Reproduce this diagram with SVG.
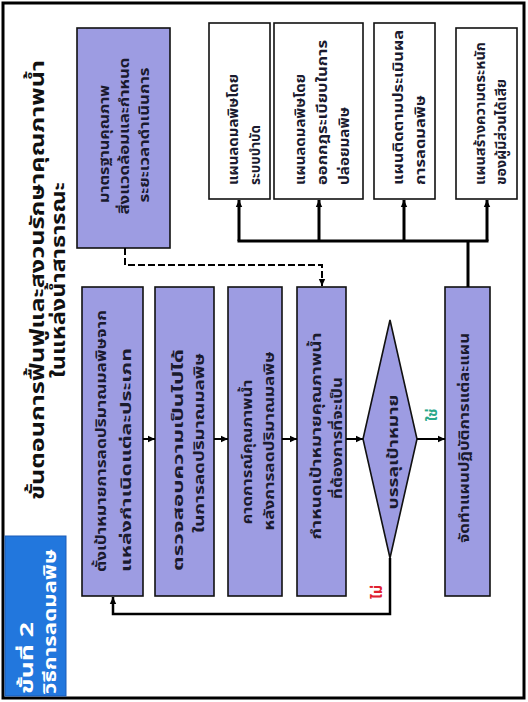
<svg xmlns="http://www.w3.org/2000/svg" width="528" height="702" viewBox="0 0 528 702">
<style>
  text { font-family: "Noto Sans Thai", "Noto Sans", "DejaVu Sans", sans-serif; font-weight: bold; fill: #1a1a2e; }
  .p { fill: #9d9ce2; stroke: #111; stroke-width: 1.6; }
  .w { fill: #ffffff; stroke: #111; stroke-width: 1.6; }
  .t { font-size: 14px; }
  .tw { font-size: 14px; }
  .ttl { font-size: 20px; fill: #111; }
  .blue { font-size: 17px; fill: #ffffff; }
  .c { fill: none; stroke: #000; }
</style>
<defs>
  <marker id="ah" markerUnits="userSpaceOnUse" markerWidth="8" markerHeight="8" refX="7" refY="4" orient="auto">
    <path d="M0,0.8 L7,4 L0,7.2 Z" fill="#000"/>
  </marker>
</defs>
<rect x="0" y="0" width="528" height="702" fill="#ffffff"/>
<rect x="3" y="3" width="521" height="695" fill="none" stroke="#000" stroke-width="3"/>

<g id="label">
  <rect x="5" y="536" width="61" height="160" fill="#2277dd" stroke="#1a5cb8" stroke-width="1"/>
  <text class="blue" transform="translate(33 694) rotate(-90)" textLength="72" lengthAdjust="spacingAndGlyphs">ขั้นที่ 2</text>
  <text class="blue" transform="translate(56 694) rotate(-90)" textLength="145" lengthAdjust="spacingAndGlyphs">วิธีการลดมลพิษ</text>
</g>

<g id="title">
  <text class="ttl" text-anchor="middle" transform="translate(44 280) rotate(-90)" textLength="440" lengthAdjust="spacingAndGlyphs">ขั้นตอนการฟื้นฟูและสงวนรักษาคุณภาพน้ำ</text>
  <text class="ttl" text-anchor="middle" transform="translate(65 280) rotate(-90)" textLength="196" lengthAdjust="spacingAndGlyphs">ในแหล่งน้ำสาธารณะ</text>
</g>

<g id="standard">
  <rect class="p" x="77" y="28" width="93" height="220"/>
  <text class="t" text-anchor="middle" transform="translate(109 144) rotate(-90)" textLength="118" lengthAdjust="spacingAndGlyphs">มาตรฐานคุณภาพ</text>
  <text class="t" text-anchor="middle" transform="translate(129 136) rotate(-90)" textLength="157" lengthAdjust="spacingAndGlyphs">สิ่งแวดล้อมและกำหนด</text>
  <text class="t" text-anchor="middle" transform="translate(149 135) rotate(-90)" textLength="135" lengthAdjust="spacingAndGlyphs">ระยะเวลาดำเนินการ</text>
</g>

<g id="step1">
  <rect class="p" x="82" y="287" width="61" height="309"/>
  <text class="t" text-anchor="middle" transform="translate(106 441) rotate(-90)" textLength="262" lengthAdjust="spacingAndGlyphs">ตั้งเป้าหมายการลดปริมาณมลพิษจาก</text>
  <text class="t" text-anchor="middle" transform="translate(131 460) rotate(-90)" textLength="224" lengthAdjust="spacingAndGlyphs">แหล่งกำเนิดแต่ละประเภท</text>
</g>

<g id="step2">
  <rect class="p" x="155" y="287" width="59" height="309"/>
  <text class="t" text-anchor="middle" transform="translate(183 460) rotate(-90)" textLength="222" lengthAdjust="spacingAndGlyphs">ตรวจสอบความเป็นไปได้</text>
  <text class="t" text-anchor="middle" transform="translate(204 443) rotate(-90)" textLength="180" lengthAdjust="spacingAndGlyphs">ในการลดปริมาณมลพิษ</text>
</g>

<g id="step3">
  <rect class="p" x="228" y="287" width="54" height="309"/>
  <text class="t" text-anchor="middle" transform="translate(252 452) rotate(-90)" textLength="145" lengthAdjust="spacingAndGlyphs">คาดการณ์คุณภาพน้ำ</text>
  <text class="t" text-anchor="middle" transform="translate(274 441) rotate(-90)" textLength="179" lengthAdjust="spacingAndGlyphs">หลังการลดปริมาณมลพิษ</text>
</g>

<g id="step4">
  <rect class="p" x="297" y="287" width="49" height="309"/>
  <text class="t" text-anchor="middle" transform="translate(321 436) rotate(-90)" textLength="207" lengthAdjust="spacingAndGlyphs">กำหนดเป้าหมายคุณภาพน้ำ</text>
  <text class="t" text-anchor="middle" transform="translate(342 438) rotate(-90)" textLength="122" lengthAdjust="spacingAndGlyphs">ที่ต้องการที่จะเป็น</text>
</g>

<g id="decision">
  <polygon class="p" points="390,320 417,439 390,558 363,439"/>
  <text class="t" text-anchor="middle" transform="translate(398 452) rotate(-90)" textLength="115" lengthAdjust="spacingAndGlyphs">บรรลุเป้าหมาย</text>
</g>

<g id="action">
  <rect class="p" x="445" y="287" width="45" height="309"/>
  <text class="t" text-anchor="middle" transform="translate(469 438) rotate(-90)" textLength="210" lengthAdjust="spacingAndGlyphs">จัดทำแผนปฏิบัติการแต่ละแผน</text>
</g>

<g id="plan1">
  <rect class="w" x="209" y="23" width="61" height="176"/>
  <text class="tw" transform="translate(238 185) rotate(-90)" textLength="111" lengthAdjust="spacingAndGlyphs">แผนลดมลพิษโดย</text>
  <text class="tw" transform="translate(260 185) rotate(-90)" textLength="60" lengthAdjust="spacingAndGlyphs">ระบบบำบัด</text>
</g>

<g id="plan2">
  <rect class="w" x="274" y="23" width="89" height="176"/>
  <text class="tw" transform="translate(305 185) rotate(-90)" textLength="111" lengthAdjust="spacingAndGlyphs">แผนลดมลพิษโดย</text>
  <text class="tw" transform="translate(327 185) rotate(-90)" textLength="145" lengthAdjust="spacingAndGlyphs">ออกกฎระเบียบในการ</text>
  <text class="tw" transform="translate(349 185) rotate(-90)" textLength="78" lengthAdjust="spacingAndGlyphs">ปล่อยมลพิษ</text>
</g>

<g id="plan3">
  <rect class="w" x="374" y="23" width="61" height="176"/>
  <text class="tw" transform="translate(403 185) rotate(-90)" textLength="155" lengthAdjust="spacingAndGlyphs">แผนติดตามประเมินผล</text>
  <text class="tw" transform="translate(425 185) rotate(-90)" textLength="90" lengthAdjust="spacingAndGlyphs">การลดมลพิษ</text>
</g>

<g id="plan4">
  <rect class="w" x="456" y="28" width="61" height="171"/>
  <text class="tw" transform="translate(485 185) rotate(-90)" textLength="143" lengthAdjust="spacingAndGlyphs">แผนสร้างความตระหนัก</text>
  <text class="tw" transform="translate(506 185) rotate(-90)" textLength="106" lengthAdjust="spacingAndGlyphs">ของผู้มีส่วนได้เสีย</text>
</g>

<g id="connectors">
  <line class="c" x1="143" y1="439" x2="155" y2="439" stroke-width="2" marker-end="url(#ah)"/>
  <line class="c" x1="214" y1="439" x2="228" y2="439" stroke-width="2" marker-end="url(#ah)"/>
  <line class="c" x1="282" y1="439" x2="297" y2="439" stroke-width="2" marker-end="url(#ah)"/>
  <line class="c" x1="346" y1="439" x2="363" y2="439" stroke-width="2" marker-end="url(#ah)"/>
  <line class="c" x1="417" y1="439" x2="445" y2="439" stroke-width="2" marker-end="url(#ah)"/>
  <polyline class="c" points="390,558 390,614 113,614 113,597" stroke-width="2.5" marker-end="url(#ah)"/>
  <polyline class="c" points="125,248 125,265 322,265 322,286" stroke-width="2" stroke-dasharray="7,3" marker-end="url(#ah)"/>
  <line class="c" x1="237.5" y1="241" x2="488.5" y2="241" stroke-width="3"/>
  <line class="c" x1="239" y1="241" x2="239" y2="200" stroke-width="3" marker-end="url(#ah)"/>
  <line class="c" x1="319" y1="241" x2="319" y2="200" stroke-width="3" marker-end="url(#ah)"/>
  <line class="c" x1="404" y1="241" x2="404" y2="200" stroke-width="3" marker-end="url(#ah)"/>
  <line class="c" x1="487" y1="241" x2="487" y2="200" stroke-width="3" marker-end="url(#ah)"/>
  <line class="c" x1="468" y1="241" x2="468" y2="287" stroke-width="3"/>
  <text transform="translate(437 415) rotate(-90)" text-anchor="middle" style="font-size:14px;fill:#2aa88a">ใช่</text>
  <text transform="translate(382 592) rotate(-90)" text-anchor="middle" style="font-size:14px;fill:#e02030">ไม่</text>
</g>
</svg>
